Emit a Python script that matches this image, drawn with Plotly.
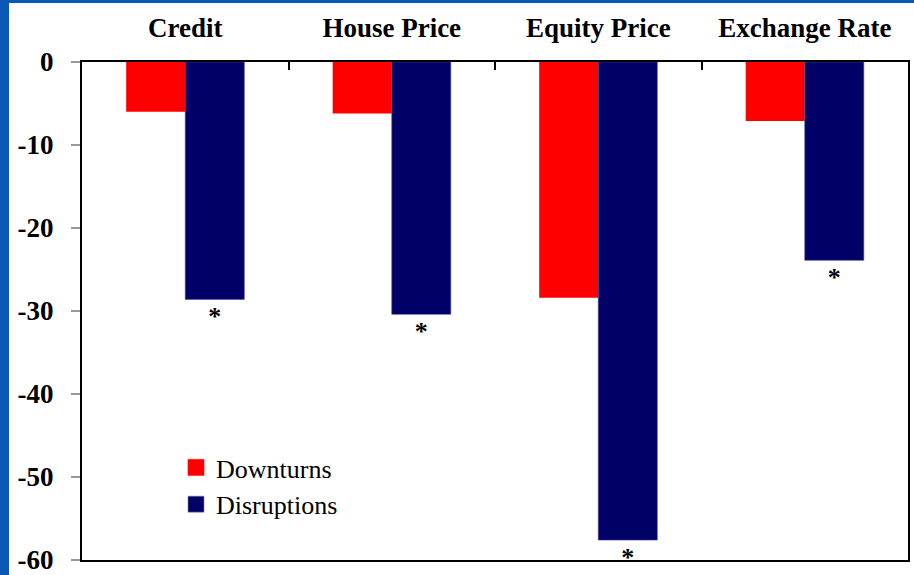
import plotly.graph_objects as go

categories = ["Credit", "House Price", "Equity Price", "Exchange Rate"]
downturns = [-6.0, -6.2, -28.4, -7.1]
disruptions = [-28.6, -30.4, -57.6, -23.9]
significance = ["*", "*", "*", "*"]
y_ticks = [0, -10, -20, -30, -40, -50, -60]
series_names = ["Downturns", "Disruptions"]
series_colors = ["#FF0000", "#000066"]

W, H = 914, 575
ml, mr, mt, mb = 82, 6, 62, 15
pw, ph = W - ml - mr, H - mt - mb

serif = "Liberation Serif"

fig = go.Figure()
fig.add_trace(go.Bar(
    x=categories, y=downturns, name=series_names[0], showlegend=False,
    marker=dict(color=series_colors[0], line=dict(width=0)),
))
fig.add_trace(go.Bar(
    x=categories, y=disruptions, name=series_names[1], showlegend=False,
    marker=dict(color=series_colors[1], line=dict(color="#4a4a9a", width=0.6)),
    text=significance, textposition="outside",
    textfont=dict(family=serif, size=26, color="black", weight="bold"),
    cliponaxis=False,
))
# legend entries with larger square swatches
for name, col in zip(series_names, series_colors):
    fig.add_trace(go.Scatter(
        x=[None], y=[None], mode="markers", name=name,
        marker=dict(symbol="square", size=16, color=col,
                    line=dict(color="#8080b0" if col == "#000066" else col, width=0.6)),
    ))

fig.update_layout(
    width=W, height=H,
    margin=dict(l=ml, r=mr, t=mt, b=mb, pad=0, autoexpand=False),
    font=dict(family=serif, color="black"),
    paper_bgcolor="#0b58b4",
    plot_bgcolor="white",
    barmode="group",
    bargap=0.428,
    bargroupgap=0,
    showlegend=True,
    legend=dict(
        x=(176 - ml) / pw, y=(H - mb - 444) / ph, xanchor="left", yanchor="top",
        bgcolor="rgba(0,0,0,0)",
        font=dict(family=serif, size=26, color="black"),
        itemwidth=30, tracegroupgap=0,
    ),
    shapes=[
        dict(type="rect", xref="paper", yref="paper",
             x0=(9 - ml) / pw, x1=(W + 5 - ml) / pw,
             y0=-(mb + 5) / ph, y1=1 + (mt - 3) / ph,
             fillcolor="white", line=dict(width=0), layer="below"),
    ],
)

fig.update_xaxes(
    side="top", type="category", automargin=False,
    showline=True, linecolor="black", linewidth=2, mirror=True,
    ticks="inside", tickson="boundaries", ticklen=8, tickcolor="black", tickwidth=1.5,
    tickfont=dict(family=serif, size=27, color="black", weight="bold"),
    ticklabelstandoff=12, ticklabeloverflow="allow",
    showgrid=False, zeroline=False,
)
fig.update_yaxes(
    range=[-60, 0], tickvals=y_ticks, ticktext=[str(v) for v in y_ticks],
    automargin=False,
    showline=True, linecolor="black", linewidth=2, mirror=True,
    ticks="outside", ticklen=9, tickcolor="#999999", tickwidth=1.5,
    tickfont=dict(family=serif, size=27, color="black", weight="bold"),
    ticklabelstandoff=12, ticklabeloverflow="allow",
    showgrid=False, zeroline=False,
)

fig.write_html(
    "out.html",
    config={"displayModeBar": False},
    post_script="document.body.style.margin='0';document.body.style.overflow='hidden';",
)
